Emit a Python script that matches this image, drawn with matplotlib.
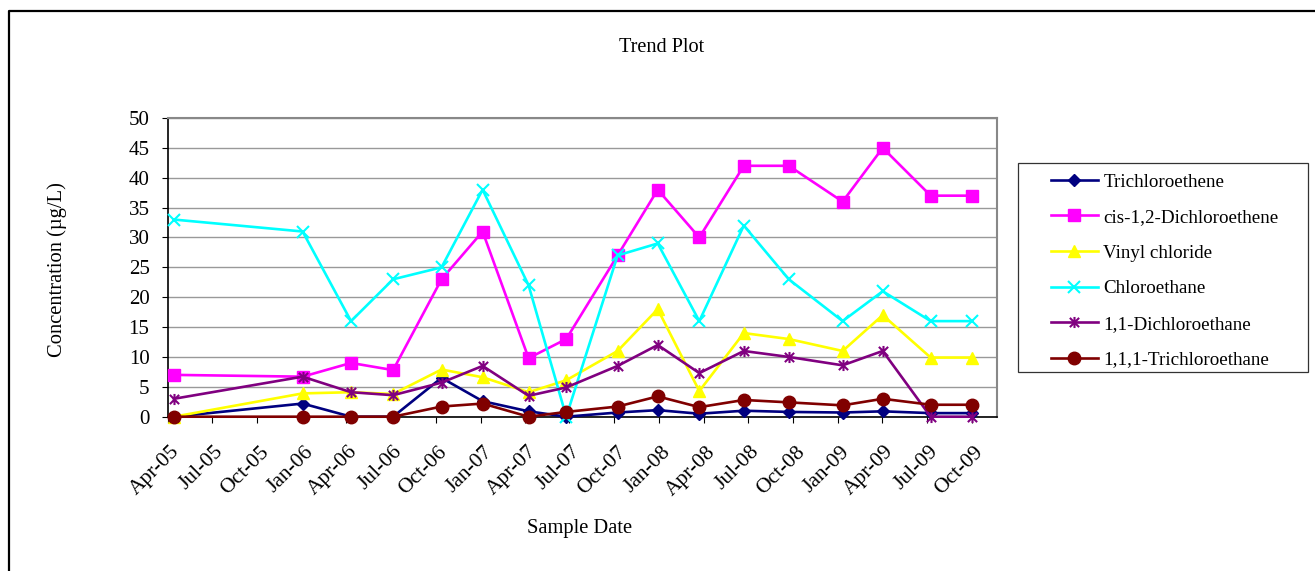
import numpy as np
import matplotlib
matplotlib.use("Agg")
import matplotlib.pyplot as plt
import matplotlib.dates as mdates
import matplotlib.transforms as mtransforms
from matplotlib.path import Path
from matplotlib.lines import Line2D
from matplotlib.patches import Rectangle

# ---- data ----
sample_dates = ["2005-04-14", "2006-01-02", "2006-04-11", "2006-07-06", "2006-10-13",
                "2007-01-05", "2007-04-09", "2007-06-25", "2007-10-08", "2007-12-29",
                "2008-03-23", "2008-06-22", "2008-09-22", "2009-01-10", "2009-04-02",
                "2009-07-09", "2009-10-01"]

trichloroethene = [0, 2.2, 0, 0, 6.5, 2.6, 0.9, 0, 0.7, 1.1, 0.5, 1.0, 0.8, 0.7, 0.9, 0.6, 0.6]
cis_dce = [7, 6.7, 9, 7.8, 23, 31, 9.8, 13, 27, 38, 30, 42, 42, 36, 45, 37, 37]
vinyl_chloride = [0, 3.9, 4.1, 3.8, 7.9, 6.6, 4.1, 6.1, 11, 18, 4.3, 14, 13, 11, 17, 9.9, 9.9]
chloroethane = [33, 31, 16, 23, 25, 38, 22, 0, 27, 29, 16, 32, 23, 16, 21, 16, 16]
dichloroethane_11 = [3, 6.7, 4.1, 3.6, 5.7, 8.5, 3.5, 4.9, 8.5, 12, 7.3, 11, 10, 8.6, 11, 0, 0]
trichloroethane_111 = [0, 0, 0, 0, 1.7, 2.2, 0, 0.8, 1.7, 3.4, 1.6, 2.8, 2.4, 1.9, 3.0, 2.0, 2.0]

series_names = ["Trichloroethene", "cis-1,2-Dichloroethene", "Vinyl chloride",
                "Chloroethane", "1,1-Dichloroethane", "1,1,1-Trichloroethane"]

# ---- styling ----
W, H = 1315, 571
plt.rcParams['font.family'] = ['Liberation Serif', 'DejaVu Serif']
FS_LEG = 13.7
FS_YTICK = 15
FS_XTICK = 15.5
FS_LABEL = 14.8

def fx(px):
    return px / W

def fy(py):
    return 1 - py / H

# asterisk marker: an x with a vertical bar
star = Path([(-1, -1), (1, 1), (-1, 1), (1, -1), (0, -1.2), (0, 1.2)],
            [Path.MOVETO, Path.LINETO, Path.MOVETO, Path.LINETO, Path.MOVETO, Path.LINETO])

styles = [
    dict(color="#000080", marker="D", ms=6.5),
    dict(color="#FF00FF", marker="s", ms=8),
    dict(color="#FFFF00", marker="^", ms=9),
    dict(color="#00FFFF", marker="x", ms=8, mew=1.5),
    dict(color="#800080", marker=star, ms=8, mew=1.5),
    dict(color="#800000", marker="o", ms=9),
]

fig = plt.figure(figsize=(W / 100, H / 100), dpi=100)
x0, x1, y0, y1 = 167.6, 996.7, 118, 416.7
ax = fig.add_axes([fx(x0), fy(y1), (x1 - x0) / W, (y1 - y0) / H])

dates = mdates.date2num(np.array(sample_dates, dtype="datetime64[D]"))
all_series = [trichloroethene, cis_dce, vinyl_chloride, chloroethane,
              dichloroethane_11, trichloroethane_111]

handles = []
for name, vals, st in zip(series_names, all_series, styles):
    kw = dict(color=st["color"], lw=1.9, marker=st["marker"], ms=st["ms"],
              mfc=st["color"], mec=st["color"], clip_on=False, zorder=3)
    if "mew" in st:
        kw["mew"] = st["mew"]
    ln, = ax.plot(dates, vals, label=name, **kw)
    handles.append(ln)

# axes limits and ticks
ax.set_xlim(mdates.date2num(np.datetime64("2005-04-01")),
            mdates.date2num(np.datetime64("2009-11-21")))
ax.set_ylim(0, 50)
ax.set_yticks(np.arange(0, 51, 5))
ax.xaxis.set_major_locator(mdates.MonthLocator(bymonth=[1, 4, 7, 10], bymonthday=1))
ax.xaxis.set_major_formatter(mdates.DateFormatter("%b-%y"))
ax.tick_params(axis="both", direction="out", length=4, width=0.8, color="black")
ax.tick_params(axis="y", pad=9, labelsize=FS_YTICK)
ax.tick_params(axis="x", pad=14.5, labelsize=FS_XTICK)
shift = mtransforms.ScaledTranslation(2 / 100, 0, fig.dpi_scale_trans)
for lab in ax.get_xticklabels():
    lab.set_rotation(45)
    lab.set_ha("right")
    lab.set_va("top")
    lab.set_rotation_mode("anchor")
    lab.set_transform(lab.get_transform() + shift)

ax.grid(axis="y", color="#999999", lw=1.0, zorder=0)
ax.set_axisbelow(True)
for s in ["top", "right"]:
    ax.spines[s].set_color("#888888")
    ax.spines[s].set_linewidth(1.5)
for s in ["left", "bottom"]:
    ax.spines[s].set_color("black")
    ax.spines[s].set_linewidth(1.2)

# titles
fig.text(fx(662), fy(47), "Trend Plot", ha="center", va="center", fontsize=14.6)
fig.text(fx(580), fy(529), "Sample Date", ha="center", va="center", fontsize=FS_LABEL)
fig.text(fx(57), fy(270), "Concentration (µg/L)", ha="center", va="center",
         rotation=90, fontsize=FS_LABEL)

# legend with a separate frame
fig.patches.append(Rectangle((fx(1018), fy(372)), (1308 - 1018) / W, (372 - 163) / H,
                             transform=fig.transFigure, fill=False,
                             edgecolor="#333333", lw=0.9))
fig.legend(handles=handles, loc="upper left", bbox_to_anchor=(fx(1051), fy(173.2)),
           frameon=False, fontsize=FS_LEG, borderpad=0, borderaxespad=0,
           handlelength=2.45, handletextpad=0.3, labelspacing=0.96)

# outer chart border (left and top edges)
fig.lines.append(Line2D([fx(9), fx(9), fx(1320)], [fy(580), fy(11), fy(11)],
                        transform=fig.transFigure, color="black", lw=1.6))

fig.savefig("out.png", dpi=100)
